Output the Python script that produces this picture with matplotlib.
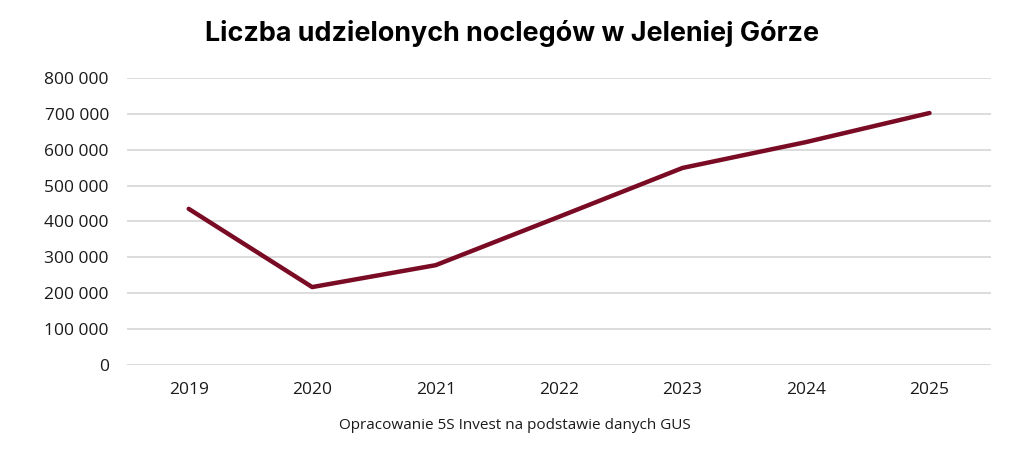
import matplotlib
matplotlib.use('Agg')
import matplotlib.pyplot as plt
from matplotlib.ticker import FuncFormatter

years = ['2019', '2020', '2021', '2022', '2023', '2024', '2025']
noclegi = [435000, 217000, 278000, 413000, 549000, 621000, 702000]
y_ticks = [0, 100000, 200000, 300000, 400000, 500000, 600000, 700000, 800000]

title = 'Liczba udzielonych noclegów w Jeleniej Górze'
source = 'Opracowanie 5S Invest na podstawie danych GUS'

plt.rcParams['font.family'] = ['Open Sans', 'DejaVu Sans']

fig = plt.figure(figsize=(10.24, 4.5), dpi=100)
ax = fig.add_axes([0.124, 0.189, 0.844, 0.638])

x = range(len(years))
ax.plot(x, noclegi, color='#7a0b24', linewidth=3.2, solid_capstyle='round', zorder=3)

ax.set_xlim(-0.5, len(years) - 0.5)
ax.set_ylim(0, 800000)
ax.set_xticks(list(x))
ax.set_xticklabels(years)
ax.set_yticks(y_ticks)
ax.yaxis.set_major_formatter(FuncFormatter(lambda v, p: f'{int(v):,}'.replace(',', ' ')))

ax.grid(axis='y', color='#d9d9d9', linewidth=1.3)
ax.set_axisbelow(True)
for s in ax.spines.values():
    s.set_visible(False)
ax.tick_params(length=0, labelsize=12.5, colors='#1a1a1a')
ax.tick_params(axis='x', pad=12)
ax.tick_params(axis='y', pad=13)

fig.text(0.5, 0.926, title, ha='center', va='center', fontsize=19.4, fontweight='bold',
         family=['Inter', 'DejaVu Sans'], color='black')
fig.text(0.503, 0.055, source, ha='center', va='center', fontsize=11, color='#1a1a1a')

fig.savefig('out.png', dpi=100)
